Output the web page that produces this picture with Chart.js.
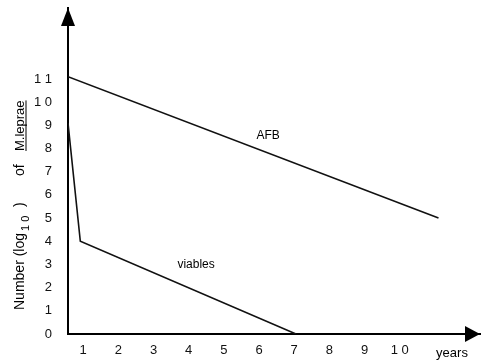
<!DOCTYPE html>
<html>
<head>
<meta charset="utf-8">
<script src="https://cdn.jsdelivr.net/npm/chart.js@4"></script>
<style>
  body { margin: 0; background: #fff; }
  #wrap { width: 482px; height: 360px; }
</style>
</head>
<body>
<div id="wrap"><canvas id="chart"></canvas></div>
<script>
// values (years, log10 count)
var afbYears = [0.57, 11.1];
var afbLog = [11.1, 5];
var viableYears = [0.57, 0.92, 7.05];
var viableLog = [9.1, 4, 0];

var xTickValues = [1, 2, 3, 4, 5, 6, 7, 8, 9, 10];
var xTickLabels = ["1", "2", "3", "4", "5", "6", "7", "8", "9", "1 0"];
var yTickValues = [0, 1, 2, 3, 4, 5, 6, 7, 8, 9, 10, 11];
var yTickLabels = ["0", "1", "2", "3", "4", "5", "6", "7", "8", "9", "1 0", "1 1"];

var FONT = "'Liberation Sans', Arial, sans-serif";

function toPoints(xs, ys) {
  return xs.map(function (x, i) { return { x: x, y: ys[i] }; });
}

// arrows, curve labels and the y title
var extras = {
  id: "extras",
  afterDraw: function (chart) {
    var c = chart.ctx, a = chart.chartArea;
    var xs = chart.scales.x, ys = chart.scales.y;
    c.save();
    c.fillStyle = "#000";
    // y arrow
    c.beginPath();
    c.moveTo(a.left, a.top);
    c.lineTo(a.left - 7, a.top + 18);
    c.lineTo(a.left + 7, a.top + 18);
    c.closePath();
    c.fill();
    // x arrow
    c.beginPath();
    c.moveTo(a.right, a.bottom);
    c.lineTo(a.right - 15, a.bottom - 8);
    c.lineTo(a.right - 15, a.bottom + 8);
    c.closePath();
    c.fill();

    c.font = "12px " + FONT;
    c.textAlign = "center";
    c.textBaseline = "middle";
    c.fillText("AFB", xs.getPixelForValue(6.26), ys.getPixelForValue(8.54));
    c.fillText("viables", xs.getPixelForValue(4.21), ys.getPixelForValue(2.98));
    c.font = "13px " + FONT;
    c.fillText("years", a.right - 28, a.bottom + 19);

    // y title, rotated, with subscript and underline
    c.translate(24, 0);
    c.rotate(-Math.PI / 2);
    c.textAlign = "left";
    c.textBaseline = "alphabetic";
    var parts = [
      { t: "Number (log", size: 14, from: 310, dy: 0 },
      { t: "1 0", size: 11, from: 231, dy: 5 },
      { t: ")", size: 14, from: 207, dy: 0 },
      { t: "of", size: 14, from: 176, dy: 0 },
      { t: "M.leprae", size: 13, from: 151, dy: 0, under: true }
    ];
    parts.forEach(function (p) {
      c.font = p.size + "px " + FONT;
      c.fillText(p.t, -p.from, p.dy);
      if (p.under) {
        c.fillRect(-p.from, 1.5, c.measureText(p.t).width, 1);
      }
    });
    c.restore();
  }
};

new Chart(document.getElementById("chart"), {
  type: "scatter",
  data: {
    datasets: [
      {
        label: "AFB",
        data: toPoints(afbYears, afbLog),
        showLine: true,
        borderColor: "#111",
        borderWidth: 1.6,
        pointRadius: 0
      },
      {
        label: "viables",
        data: toPoints(viableYears, viableLog),
        showLine: true,
        borderColor: "#111",
        borderWidth: 1.6,
        pointRadius: 0
      }
    ]
  },
  options: {
    responsive: true,
    maintainAspectRatio: false,
    animation: false,
    layout: { padding: { top: 8, right: 2, left: 0, bottom: 0 } },
    plugins: {
      legend: { display: false },
      tooltip: { enabled: false }
    },
    scales: {
      x: {
        type: "linear",
        min: 0.57,
        max: 12.28,
        grid: { display: false, drawTicks: false },
        border: { display: true, color: "#000", width: 2 },
        afterFit: function (s) {
          s.height = 26;
          s.paddingLeft = 0;
          s.paddingRight = 0;
        },
        afterBuildTicks: function (s) {
          s.ticks = xTickValues.map(function (v) { return { value: v }; });
        },
        ticks: {
          padding: 9,
          color: "#111",
          font: { family: FONT, size: 13 },
          callback: function (v) {
            var i = xTickValues.indexOf(v);
            return i < 0 ? "" : xTickLabels[i];
          }
        }
      },
      y: {
        type: "linear",
        min: 0,
        max: 14.06,
        grid: { display: false, drawTicks: false },
        border: { display: true, color: "#000", width: 2 },
        afterFit: function (s) {
          s.width = 68;
          s.paddingTop = 0;
          s.paddingBottom = 0;
        },
        afterBuildTicks: function (s) {
          s.ticks = yTickValues.map(function (v) { return { value: v }; });
        },
        ticks: {
          padding: 16,
          color: "#111",
          font: { family: FONT, size: 13 },
          callback: function (v) {
            var i = yTickValues.indexOf(v);
            return i < 0 ? "" : yTickLabels[i];
          }
        }
      }
    }
  },
  plugins: [extras]
});
</script>
</body>
</html>
